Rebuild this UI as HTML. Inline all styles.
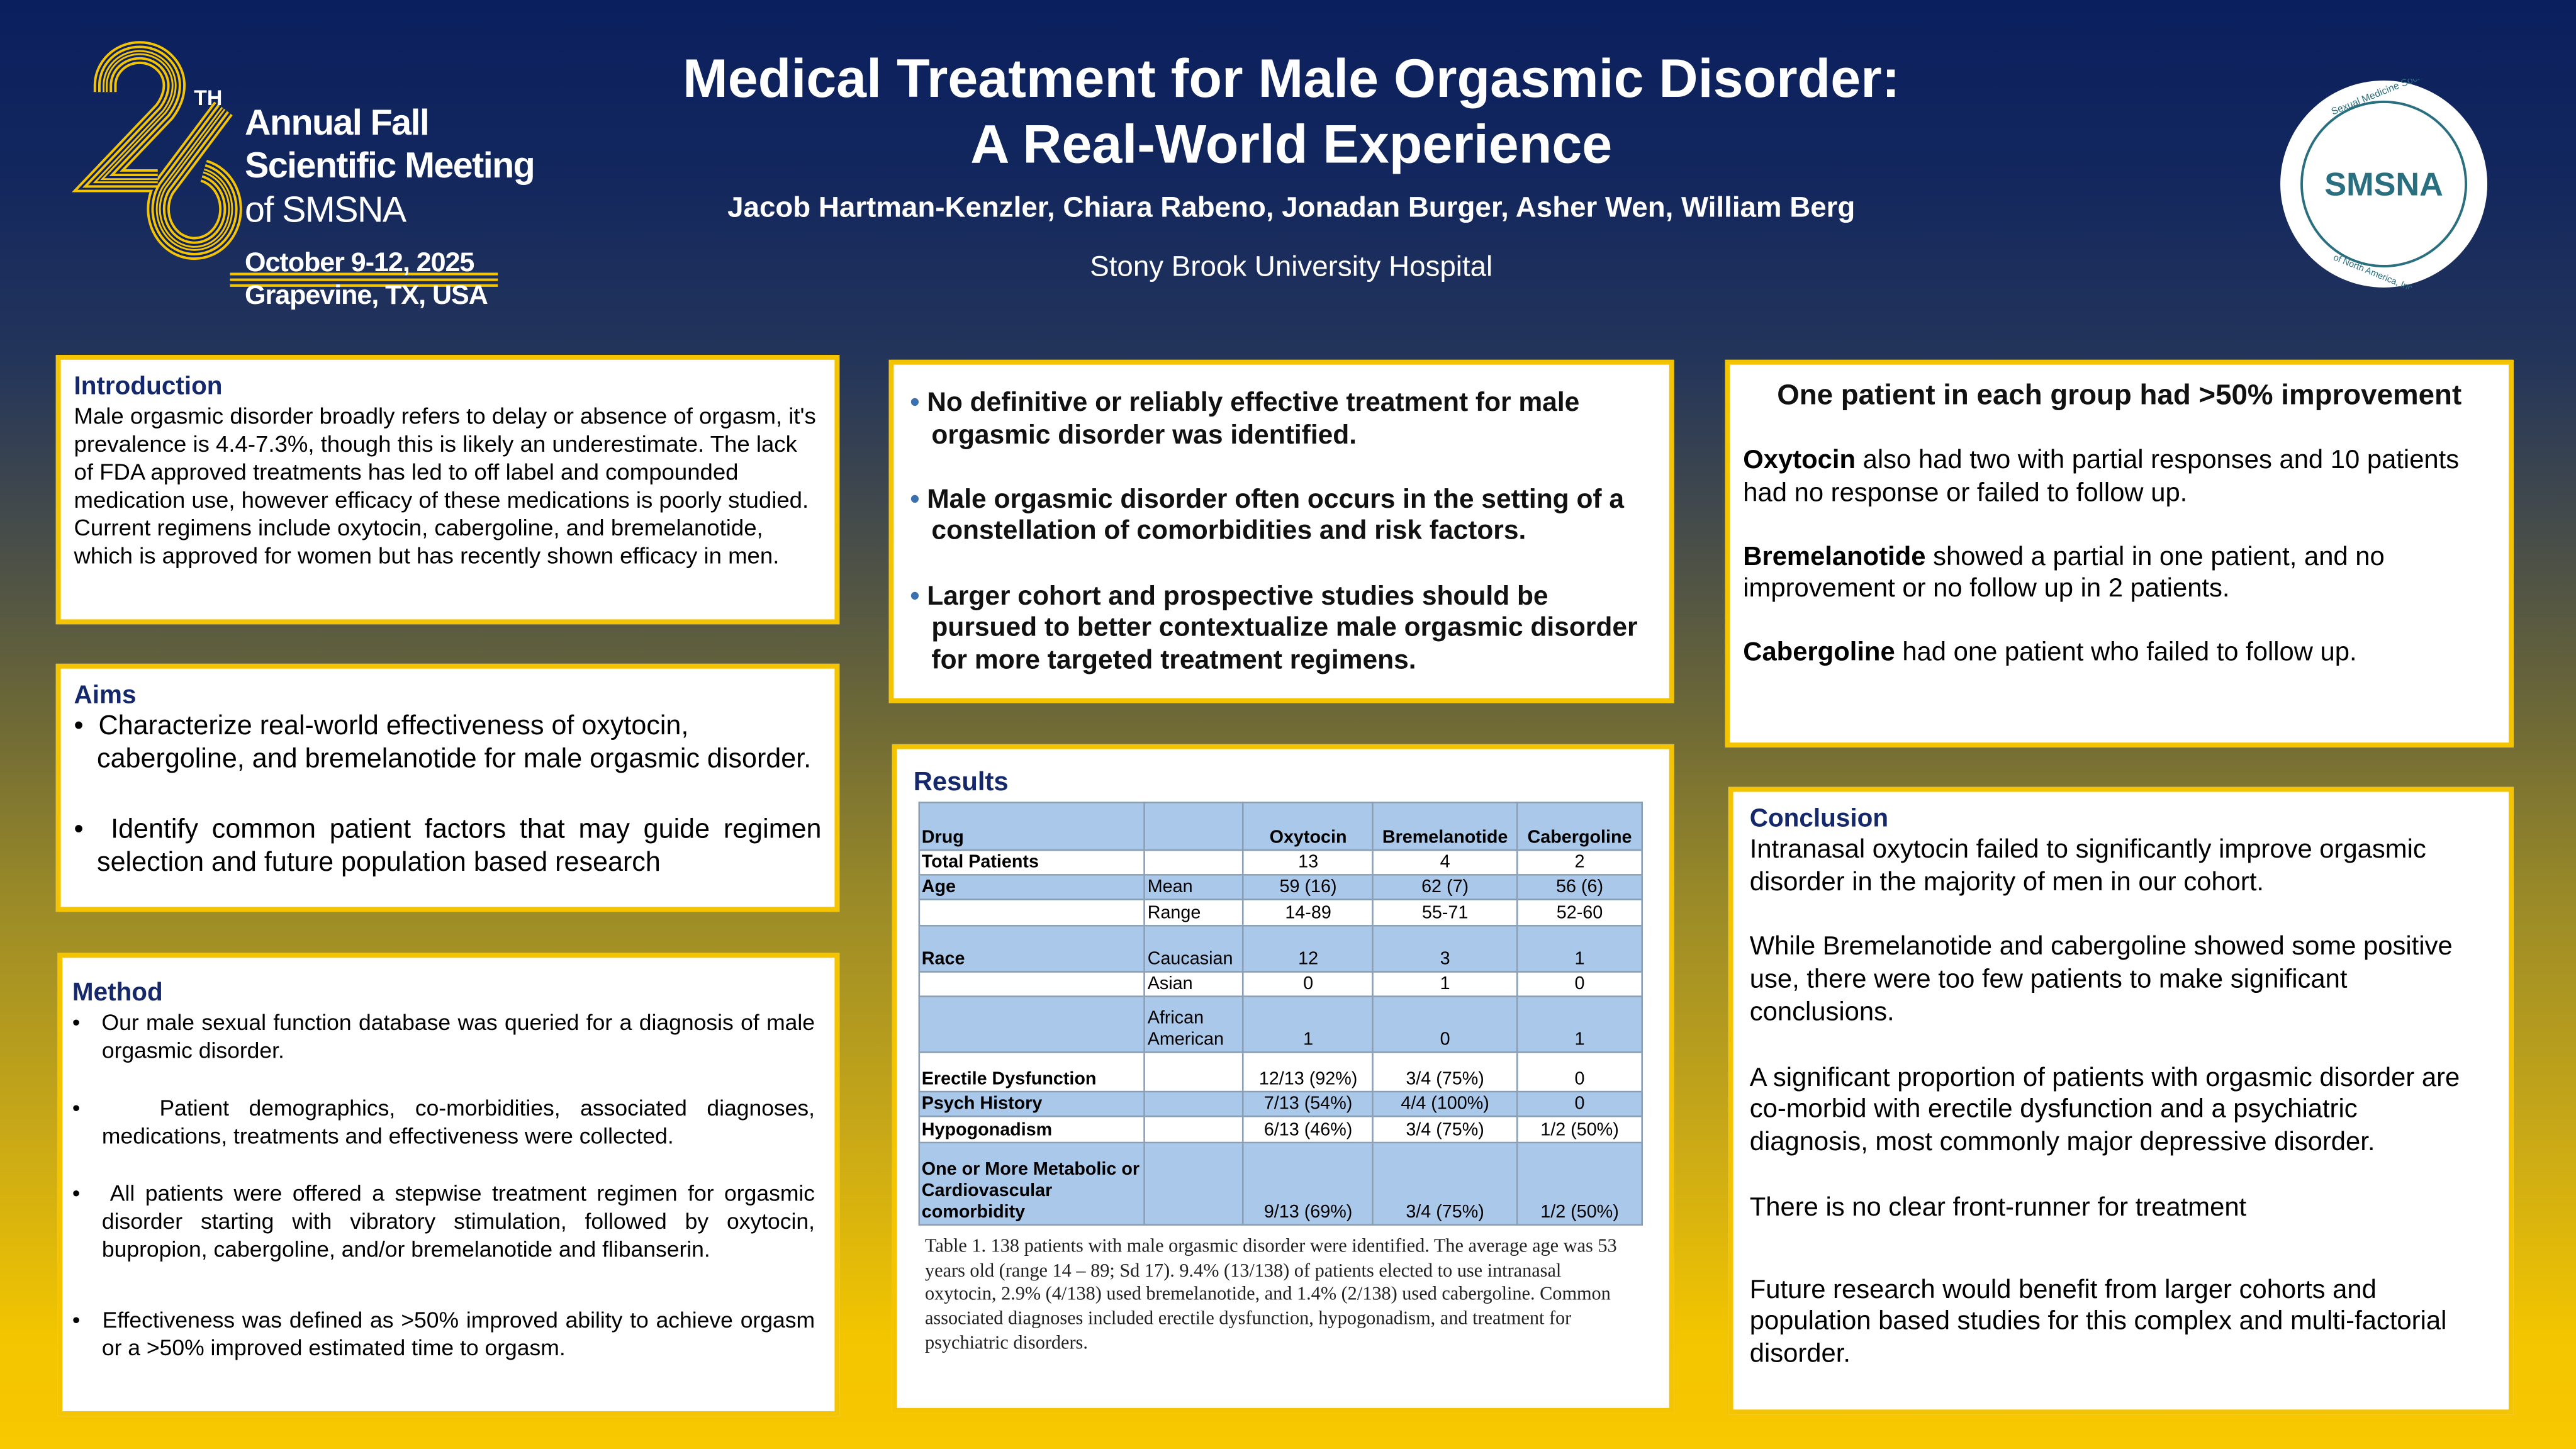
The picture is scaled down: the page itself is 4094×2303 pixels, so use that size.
<!DOCTYPE html>
<html><head><meta charset="utf-8">
<style>
html,body{margin:0;padding:0;}
body{width:4094px;height:2303px;overflow:hidden;}
#w{position:absolute;left:0;top:0;width:1568px;height:882px;transform:scale(2.6110,2.6111);transform-origin:0 0;
background:linear-gradient(180deg,#0a1f5e 0%,#13275e 12%,#24355a 25%,#4a4f48 38%,#6f6a36 50%,#9a8a28 62%,#c8a818 78%,#f2c500 92%,#f8c800 100%);
font-family:"Liberation Sans",sans-serif;color:#000;}
.box{position:absolute;background:#fff;border:3px solid #f5c400;box-sizing:border-box;}
h3{margin:0;color:#14286b;font-size:15.5px;font-weight:bold;}
.t{position:absolute;color:#fff;text-align:center;width:900px;left:336px;}
p{margin:0}
table{border-collapse:collapse;font-family:"Liberation Sans Narrow","Liberation Sans",sans-serif;font-size:11px;position:absolute;left:559px;top:488px;width:441px;}
td{border:1px solid #8a9fb5;padding:0 1px;vertical-align:bottom;line-height:13px;}
td.c{text-align:center}
tr.b td{background:#a9c8ea}
tr.w td{background:#fff}
td.f{font-weight:bold}
</style></head><body><div id="w">
<svg style="position:absolute;left:0;top:0" width="360" height="200">
<defs>
<g id="d">
<path d="M64,56 L64,52 A21,20 0 0 1 106,52 Q106,60 100,68 L60,110 L96,110"/>
<path d="M136,66 L100,114 A22,24 0 1 0 124,104"/>
</g>
</defs>
<g fill="none" stroke="#f5c400" stroke-width="14"><use href="#d"/></g>
<g fill="none" stroke="#0d2160" stroke-width="11"><use href="#d"/></g>
<g fill="none" stroke="#f5c400" stroke-width="8.5"><use href="#d"/></g>
<g fill="none" stroke="#0d2160" stroke-width="5.5"><use href="#d"/></g>
<g fill="none" stroke="#f5c400" stroke-width="3"><use href="#d"/></g>
<g fill="none" stroke="#0d2160" stroke-width="0.8"><use href="#d"/></g>
<rect x="140" y="166" width="163" height="1.6" fill="#f5c400"/>
<rect x="140" y="169.5" width="163" height="1.6" fill="#f5c400"/>
<rect x="140" y="173" width="163" height="1.6" fill="#f5c400"/>
<g fill="#fff" font-family="Liberation Sans,sans-serif">
<text x="118" y="64" font-size="13" font-weight="bold">TH</text>
<text x="149" y="82" font-size="22" font-weight="bold" letter-spacing="-0.6">Annual Fall</text>
<text x="149" y="108" font-size="22" font-weight="bold" letter-spacing="-0.6">Scientific Meeting</text>
<text x="149" y="135" font-size="22" letter-spacing="-0.6">of SMSNA</text>
<text x="149" y="165" font-size="16.5" font-weight="bold" letter-spacing="-0.4">October 9-12, 2025</text>
<text x="149" y="185" font-size="16.5" font-weight="bold" letter-spacing="-0.4">Grapevine, TX, USA</text>
</g></svg>
<div class="t" style="top:28px;font-size:33px;font-weight:bold;line-height:40px">Medical Treatment for Male Orgasmic Disorder:<br>A Real-World Experience</div>
<div class="t" style="top:116px;font-size:17.5px;font-weight:bold">Jacob Hartman-Kenzler, Chiara Rabeno, Jonadan Burger, Asher Wen, William Berg</div>
<div class="t" style="top:152px;font-size:17.5px">Stony Brook University Hospital</div>
<svg style="position:absolute;left:1386px;top:48px" width="130" height="128">
<circle cx="65" cy="64" r="63" fill="#fff"/>
<circle cx="65" cy="64" r="50" fill="none" stroke="#2a6f80" stroke-width="1.5"/>
<text x="65" y="71" text-anchor="middle" font-family="Liberation Sans,sans-serif" font-weight="bold" font-size="20" fill="#2a6f80">SMSNA</text>
<text x="34" y="22" font-size="6" fill="#2a6f80" font-family="Liberation Sans,sans-serif" transform="rotate(-22 34 22)">Sexual Medicine Society</text>
<text x="34" y="110" font-size="5.5" fill="#2a6f80" font-family="Liberation Sans,sans-serif" transform="rotate(22 34 110)">of North America, Inc.</text>
</svg>

<div class="box" style="left:34px;top:216px;width:477px;height:164px;padding:8px 8px">
<h3>Introduction</h3>
<p style="font-size:14px;line-height:17px">Male orgasmic disorder broadly refers to delay or absence of orgasm, it's prevalence is 4.4-7.3%, though this is likely an underestimate. The lack of FDA approved treatments has led to off label and compounded medication use, however efficacy of these medications is poorly studied. Current regimens include oxytocin, cabergoline, and bremelanotide, which is approved for women but has recently shown efficacy in men.</p>
</div>

<div class="box" style="left:34px;top:404px;width:477px;height:151px;padding:8px 8px">
<h3>Aims</h3>
<div style="font-size:16.5px;line-height:19.5px">
<p style="padding-left:14px;text-indent:-14px">•&nbsp; Characterize real-world effectiveness of oxytocin, cabergoline, and bremelanotide for male orgasmic disorder.</p>
<p style="padding-left:14px;text-indent:-14px;margin-top:24px;text-align:justify">•&nbsp; Identify common patient factors that may guide regimen selection and future population based research</p>
</div></div>

<div class="box" style="left:35px;top:580px;width:476px;height:282px;padding:13px 12px 0 6px">
<h3>Method</h3>
<div style="font-size:13.6px;line-height:17px;text-align:justify">
<p style="padding-left:18px;text-indent:-18px">•&nbsp;&nbsp; Our male sexual function database was queried for a diagnosis of male orgasmic disorder.</p>
<p style="padding-left:18px;text-indent:-18px;margin-top:18px">•&nbsp;&nbsp;&nbsp; Patient demographics, co-morbidities, associated diagnoses, medications, treatments and effectiveness were collected.</p>
<p style="padding-left:18px;text-indent:-18px;margin-top:18px">•&nbsp;&nbsp; All patients were offered a stepwise treatment regimen for orgasmic disorder starting with vibratory stimulation, followed by oxytocin, bupropion, cabergoline, and/or bremelanotide and flibanserin.</p>
<p style="padding-left:18px;text-indent:-18px;margin-top:26px">•&nbsp;&nbsp; Effectiveness was defined as &gt;50% improved ability to achieve orgasm or a &gt;50% improved estimated time to orgasm.</p>
</div></div>

<div class="box" style="left:541px;top:219px;width:478px;height:209px;padding:14px 18px 0 10px">
<div style="font-size:16.3px;line-height:19.6px;font-weight:bold;color:#111">
<p style="padding-left:13px;text-indent:-13px"><span style="color:#3a6fb0">•</span> No definitive or reliably effective treatment for male orgasmic disorder was identified.</p>
<p style="padding-left:13px;text-indent:-13px;margin-top:19.6px"><span style="color:#3a6fb0">•</span> Male orgasmic disorder often occurs in the setting of a constellation of comorbidities and risk factors.</p>
<p style="padding-left:13px;text-indent:-13px;margin-top:19.6px"><span style="color:#3a6fb0">•</span> Larger cohort and prospective studies should be pursued to better contextualize male orgasmic disorder for more targeted treatment regimens.</p>
</div></div>

<div class="box" style="left:543px;top:453px;width:476px;height:407px;padding:12px 10px">
<h3 style="font-size:16px">Results</h3>
</div>
<table>
<colgroup><col style="width:138px"><col style="width:60px"><col style="width:79px"><col style="width:88px"><col style="width:76px"></colgroup>
<tr class="b" style="height:29px;font-weight:bold"><td class="f">Drug</td><td></td><td class="c f">Oxytocin</td><td class="c f">Bremelanotide</td><td class="c f">Cabergoline</td></tr>
<tr class="w" style="height:15px"><td class="f">Total Patients</td><td></td><td class="c">13</td><td class="c">4</td><td class="c">2</td></tr>
<tr class="b" style="height:15px"><td class="f">Age</td><td>Mean</td><td class="c">59 (16)</td><td class="c">62 (7)</td><td class="c">56 (6)</td></tr>
<tr class="w" style="height:16px"><td></td><td>Range</td><td class="c">14-89</td><td class="c">55-71</td><td class="c">52-60</td></tr>
<tr class="b" style="height:28px"><td class="f">Race</td><td>Caucasian</td><td class="c">12</td><td class="c">3</td><td class="c">1</td></tr>
<tr class="w" style="height:15px"><td></td><td>Asian</td><td class="c">0</td><td class="c">1</td><td class="c">0</td></tr>
<tr class="b" style="height:34px"><td></td><td>African American</td><td class="c">1</td><td class="c">0</td><td class="c">1</td></tr>
<tr class="w" style="height:24px"><td class="f">Erectile Dysfunction</td><td></td><td class="c">12/13 (92%)</td><td class="c">3/4 (75%)</td><td class="c">0</td></tr>
<tr class="b" style="height:15px"><td class="f">Psych History</td><td></td><td class="c">7/13 (54%)</td><td class="c">4/4 (100%)</td><td class="c">0</td></tr>
<tr class="w" style="height:16px"><td class="f">Hypogonadism</td><td></td><td class="c">6/13 (46%)</td><td class="c">3/4 (75%)</td><td class="c">1/2 (50%)</td></tr>
<tr class="b" style="height:50px"><td class="f">One or More Metabolic or Cardiovascular comorbidity</td><td></td><td class="c">9/13 (69%)</td><td class="c">3/4 (75%)</td><td class="c">1/2 (50%)</td></tr>
</table>
<div style="position:absolute;left:563px;top:752px;width:432px;font-family:'Liberation Serif',serif;font-size:11.6px;line-height:14.7px;color:#222">Table 1. 138 patients with male orgasmic disorder were identified. The average age was 53 years old (range 14 – 89; Sd 17). 9.4% (13/138) of patients elected to use intranasal oxytocin, 2.9% (4/138) used bremelanotide, and 1.4% (2/138) used cabergoline. Common associated diagnoses included erectile dysfunction, hypogonadism, and treatment for psychiatric disorders.</div>

<div class="box" style="left:1050px;top:219px;width:480px;height:236px;padding:8px 8px">
<div style="text-align:center;font-weight:bold;font-size:17.5px;color:#111">One patient in each group had &gt;50% improvement</div>
<div style="font-size:16px;line-height:19.5px;margin-top:20px">
<p><b>Oxytocin</b> also had two with partial responses and 10 patients had no response or failed to follow up.</p>
<p style="margin-top:19.5px"><b>Bremelanotide</b> showed a partial in one patient, and no improvement or no follow up in 2 patients.</p>
<p style="margin-top:19.5px"><b>Cabergoline</b> had one patient who failed to follow up.</p>
</div></div>

<div class="box" style="left:1052px;top:479px;width:478px;height:382px;padding:8px 22px 8px 10px">
<h3>Conclusion</h3>
<div style="font-size:16px;line-height:19.8px">
<p>Intranasal oxytocin failed to significantly improve orgasmic disorder in the majority of men in our cohort.</p>
<p style="margin-top:19.8px">While Bremelanotide and cabergoline showed some positive use, there were too few patients to make significant conclusions.</p>
<p style="margin-top:19.8px">A significant proportion of patients with orgasmic disorder are co-morbid with erectile dysfunction and a psychiatric diagnosis, most commonly major depressive disorder.</p>
<p style="margin-top:19.8px">There is no clear front-runner for treatment</p>
<p style="margin-top:30px">Future research would benefit from larger cohorts and population based studies for this complex and multi-factorial disorder.</p>
</div></div>
</div></body></html>
